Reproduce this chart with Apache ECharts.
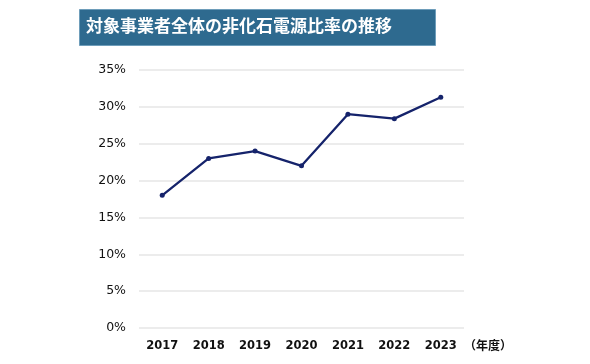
<!DOCTYPE html>
<html><head><meta charset="utf-8">
<script src="https://cdn.jsdelivr.net/npm/echarts@6/dist/echarts.min.js"></script>
<style>html,body{margin:0;padding:0;background:#fff}#c{width:590px;height:364px}</style>
</head><body><div id="c"></div>
<script>
const titleText = '対象事業者全体の非化石電源比率の推移';
const categories = ['2017','2018','2019','2020','2021','2022','2023'];
const ratio = [18.0, 23.0, 24.0, 22.0, 29.0, 28.4, 31.3];
const yTicks = [0, 5, 10, 15, 20, 25, 30, 35];
const xUnit = '（年度）';

const chart = echarts.init(document.getElementById('c'));
chart.setOption({
  animation: false,
  graphic: [
    {type:'rect', shape:{x:79.5,y:9.5,width:356,height:36}, style:{fill:'#2E6A8F', stroke:'#6E9DBA', lineWidth:1}},
    {type:'text', left:86, top:17.5, style:{text:titleText, fill:'#fff', font:'bold 17px "Noto Sans CJK JP"'}}
  ],
  grid:{left:139, right:126, top:70, bottom:36},
  xAxis:{
    type:'category', data:categories, boundaryGap:true,
    axisLine:{show:false}, axisTick:{show:false},
    axisLabel:{color:'#111', fontFamily:'DejaVu Sans', fontWeight:'bold', fontSize:11.5, margin:12},
    name:xUnit, nameLocation:'end', nameGap:0,
    nameTextStyle:{color:'#111', fontFamily:'Noto Sans CJK JP', fontWeight:'bold', fontSize:12, verticalAlign:'top', padding:[11,0,0,0]}
  },
  yAxis:{
    type:'value', min:yTicks[0], max:yTicks[yTicks.length-1], interval:5,
    axisLine:{show:false}, axisTick:{show:false},
    splitLine:{lineStyle:{color:'#e6e6e6', width:1.5}},
    axisLabel:{color:'#111', fontFamily:'DejaVu Sans', fontSize:12.5, margin:13, formatter:'{value}%'}
  },
  series:[{
    type:'line', data:ratio, symbol:'circle', symbolSize:5,
    lineStyle:{color:'#15236B', width:2.3}, itemStyle:{color:'#15236B'}
  }]
});
</script></body></html>
